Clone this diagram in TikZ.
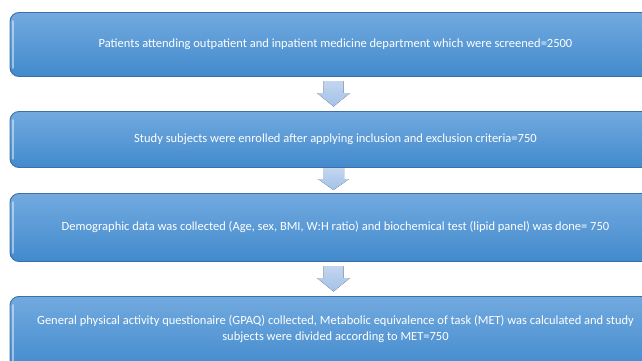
\documentclass[tikz,border=0pt]{standalone}
\usepackage{fontspec}
\setmainfont{Carlito}
\usetikzlibrary{calc}
\definecolor{boxtop}{HTML}{72AADF}
\definecolor{boxbot}{HTML}{428ACD}
\definecolor{boxline}{HTML}{3A6FA8}
\definecolor{arrtop}{HTML}{C2D6EF}
\definecolor{arrbot}{HTML}{A3C1E7}
\begin{document}
\begin{tikzpicture}[x=1pt,y=-1pt,
  flowbox/.style={draw=boxline, line width=0.9pt, rounded corners=9pt,
    top color=boxtop, bottom color=boxbot, text=white,
    font=\fontsize{12.5}{15.5}\selectfont, align=center, inner sep=0pt},
  bevel/.style={line width=1.6pt, draw=white, opacity=0.45, line cap=round},
  blockarrow/.style={top color=arrtop, bottom color=arrbot, draw=none}]
\useasboundingbox (0,0) rectangle (642,361);
\node[flowbox, minimum width=651pt, minimum height=64pt] (b1) at (335.5,44.5)
  {Patients attending outpatient and inpatient medicine department\ which were screened=2500};
\node[flowbox, minimum width=651pt, minimum height=56pt] (b2) at (335.5,139.5)
  {Study subjects were enrolled after applying inclusion and exclusion criteria=750};
\node[flowbox, minimum width=651pt, minimum height=68pt] (b3) at (335.5,227.5)
  {Demographic data was collected (Age, sex, BMI, W:H ratio) and biochemical test (lipid panel) was done= 750};
\node[flowbox, minimum width=651pt, minimum height=74pt, anchor=north] (b4) at (335.5,296)
  {\\[-36pt]General physical activity questionaire (GPAQ) collected, Metabolic equivalence of task (MET) was calculated and study\\subjects were divided according to MET=750};
\foreach \b in {b1,b2,b3,b4}{
  \draw[bevel] ($(\b.north west)+(3.2,9)$) -- ($(\b.south west)+(3.2,-9)$);
}
% coordinate, half shaft width, half head width, shaft length (above head base), head length
\coordinate (a1) at (333.5,93);
\coordinate (a2) at (333.5,179);
\coordinate (a3) at (333.5,278);
\foreach \a/\s/\h/\u/\d in {a1/10/16.5/12/13.5, a2/10.5/15.5/11/11, a3/10/16.5/12/13.5}{
  \fill[blockarrow] ($(\a)+(-\s,-\u)$) -- ($(\a)+(\s,-\u)$) -- ($(\a)+(\s,0)$)
    -- ($(\a)+(\h,0)$) -- ($(\a)+(0,\d)$) -- ($(\a)+(-\h,0)$)
    -- ($(\a)+(-\s,0)$) -- cycle;
}
\end{tikzpicture}
\end{document}
